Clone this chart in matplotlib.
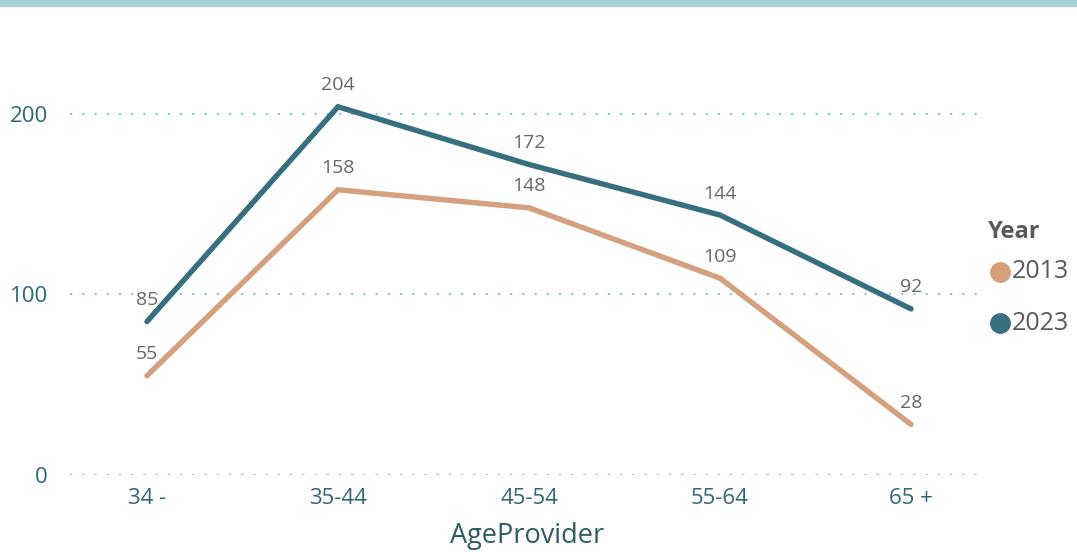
import matplotlib.pyplot as plt
from matplotlib.lines import Line2D

plt.rcParams['font.family'] = ['Open Sans', 'DejaVu Sans']

age_groups = ['34 -', '35-44', '45-54', '55-64', '65 +']
counts_2013 = [55, 158, 148, 109, 28]
counts_2023 = [85, 204, 172, 144, 92]
years = ['2013', '2023']

color_2013 = '#D4A07E'
color_2023 = '#386F80'
axis_text = '#2F6772'
label_text = '#666666'

W, H = 1077, 552
fig = plt.figure(figsize=(W / 100, H / 100), dpi=100)
ax = fig.add_axes([70 / W, 77 / H, 915 / W, 415 / H])

# thin banner across the top edge
fig.add_artist(plt.Rectangle((0, 1 - 6 / H), 1, 6 / H, transform=fig.transFigure,
                             color='#A3CFD5', zorder=0))

x = range(len(age_groups))
ax.plot(x, counts_2013, color=color_2013, lw=3.9, solid_capstyle='round', solid_joinstyle='miter')
ax.plot(x, counts_2023, color=color_2023, lw=3.9, solid_capstyle='round', solid_joinstyle='miter')

for series in (counts_2013, counts_2023):
    for i, v in enumerate(series):
        ax.annotate(str(v), (i, v), xytext=(0, 9), textcoords='offset points',
                    ha='center', va='bottom', fontsize=14, color=label_text)

ax.set_xlim(-0.403, 4.387)
ax.set_ylim(0, 229.9)
ax.set_yticks([0, 100, 200])
ax.set_xticks(list(x))
ax.set_xticklabels(age_groups)
ax.tick_params(length=0, labelsize=16, labelcolor=axis_text)
ax.tick_params(axis='y', pad=16)
ax.tick_params(axis='x', pad=9)
ax.grid(axis='y', color='#8FC7CC', linestyle=(0, (1, 4.5)), lw=1.6)
ax.set_axisbelow(True)
for s in ax.spines.values():
    s.set_visible(False)
ax.set_xlabel('AgeProvider', fontsize=19.5, color='#2B5C67', labelpad=10)

# legend drawn by hand: title, dot and year label
fig.text(988 / W, 1 - 232 / H, 'Year', fontsize=17, fontweight='bold',
         color='#5A5A5A', ha='left', va='center')
for yr, col, ypix in zip(years, [color_2013, color_2023], [272, 323]):
    fig.add_artist(Line2D([1000 / W], [1 - ypix / H], marker='o', ls='', ms=14,
                          color=col, transform=fig.transFigure))
    fig.text(1012 / W, 1 - ypix / H, yr, fontsize=18, color='#5A5A5A',
             ha='left', va='center')

fig.savefig('out.png', dpi=100)
